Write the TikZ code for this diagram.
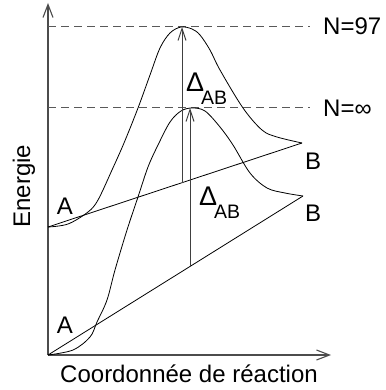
\documentclass[tikz,border=0pt]{standalone}
\usepackage{fontspec}
\setmainfont{Liberation Sans}
\usetikzlibrary{arrows.meta,positioning}
\tikzset{
myAxis/.style={
	-{Straight Barb[length=13pt,width=10pt]},
	draw=black!70,line width=1.1pt
}
, myCurve/.style={black,line width=0.8pt}
, myDash/.style={draw=black!65,line width=1pt,dash pattern=on 8pt off 5pt}
, myGap/.style={
	-{Straight Barb[length=12pt,width=8pt]},
	draw=black!75,line width=1pt
}
, myLabel/.style={inner sep=0pt,font=\fontsize{24}{28}\selectfont}
}
\newcommand\gapAB{{\fontsize{27}{28}\selectfont Δ}\kern-3pt\raisebox{-13pt}{\fontsize{19.5}{20}\selectfont AB}}

\begin{document}
\begin{tikzpicture}[x=1pt,y=-1pt]
	\useasboundingbox (0,0) rectangle (385,390);
	% points
	\coordinate (O) at (48,355);
	\coordinate (Ytop) at (48,3);
	\coordinate (Xend) at (331,355);
	\coordinate (A1) at (48,227);
	\coordinate (B1) at (302,143);
	\coordinate (B2) at (303,196);
	\coordinate (P1) at (182,27);
	\coordinate (P2) at (190,108);
	\coordinate (Q1) at (182,183);
	\coordinate (Q2) at (190,266);
	\coordinate (E1) at (310,27);
	\coordinate (E2) at (310,108);
	% labels
	\node[myLabel,anchor=west] (N97) at (323,26) {N=97};
	\node[myLabel,anchor=west] (Ninf) at (323,108) {N=∞};
	\node[myLabel] (Atop) at (65,206) {A};
	\node[myLabel] (Abot) at (65,325) {A};
	\node[myLabel] (Btop) at (313,161) {B};
	\node[myLabel] (Bbot) at (313,213) {B};
	\node[myLabel,anchor=base west] (Gtop) at (186,92) {\gapAB};
	\node[myLabel,anchor=base west] (Gbot) at (199,205) {\gapAB};
	\node[myLabel,rotate=90,anchor=base] (Ylab) at (30,186) {Energie};
	\node[myLabel,anchor=base] (Xlab) at (189,382) {Coordonnée de réaction};
	% axes
	\draw[myAxis] (O) -- (Ytop);
	\draw[myAxis] (O) -- (Xend);
	% levels
	\draw[myDash] (O |- P1) -- (E1);
	\draw[myDash] (O |- P2) -- (E2);
	% diabatic lines
	\draw[myCurve] (A1) -- (B1);
	\draw[myCurve] (O) -- (B2);
	% adiabatic curves
	\draw[myCurve] plot[smooth,tension=0.55] coordinates {
		(48,227) (68,224) (88,212) (98,200) (112,170) (124,143) (138,108)
		(150,75) (160,48) (170,33) (181,27) (192,29) (200,35) (210,50)
		(220,70) (243,108) (262,130) (277,137) (302,143)};
	\draw[myCurve] plot[smooth,tension=0.55] coordinates {
		(48,355) (73,350) (90,337) (97,322) (107,300) (115,270) (127,230)
		(138,197) (148,167) (158,145) (170,122) (181,111) (192,108)
		(205,111) (220,127) (233,145) (250,173) (267,188) (285,193) (303,196)};
	% gaps
	\draw[myGap] (Q1) -- (P1);
	\draw[myGap] (Q2) -- (P2);
\end{tikzpicture}
\end{document}
